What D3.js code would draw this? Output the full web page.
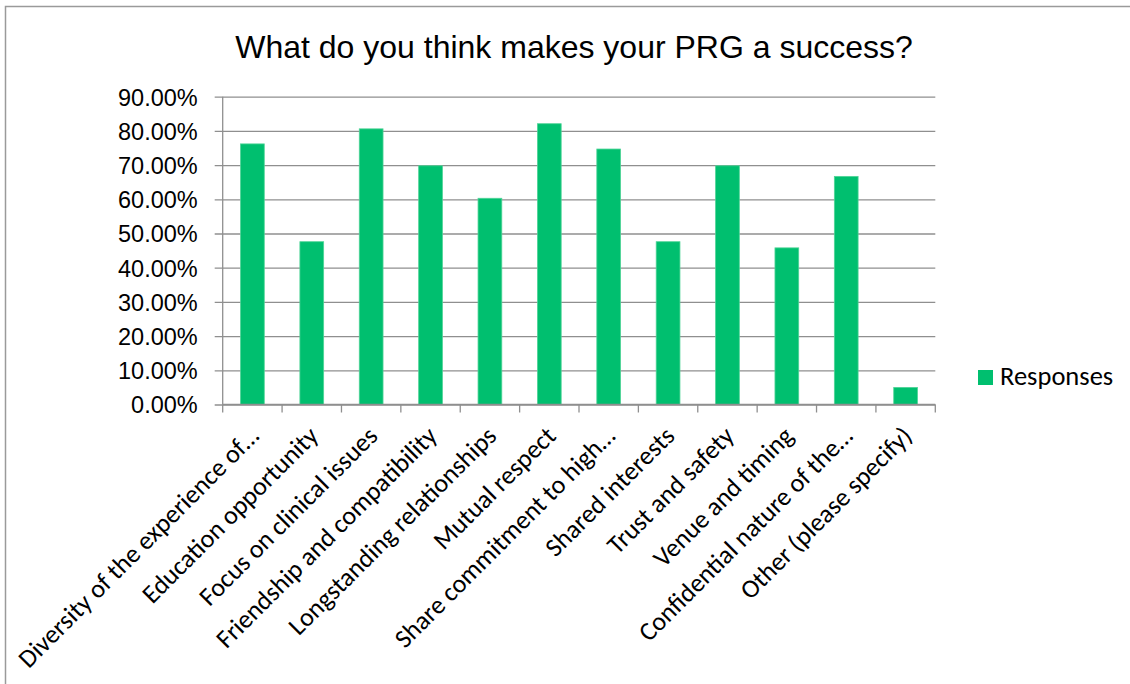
<!DOCTYPE html>
<html>
<head>
<meta charset="utf-8">
<script src="https://cdn.jsdelivr.net/npm/d3@7"></script>
<style>
  html, body { margin: 0; padding: 0; background: #ffffff; }
  svg { display: block; }
</style>
</head>
<body>
<svg id="chart" width="1130" height="684"></svg>
<script>
// Survey question and answer options
const title = "What do you think makes your PRG a success?";
const categories = [
  "Diversity of the experience of…",
  "Education opportunity",
  "Focus on clinical issues",
  "Friendship and compatibility",
  "Longstanding relationships",
  "Mutual respect",
  "Share commitment to high…",
  "Shared interests",
  "Trust and safety",
  "Venue and timing",
  "Confidential nature of the…",
  "Other (please specify)"
];
// Share of respondents choosing each option
const responses = [0.762, 0.476, 0.806, 0.698, 0.603, 0.821, 0.747, 0.476, 0.698, 0.458, 0.667, 0.050];
const seriesName = "Responses";
const yTicks = [0, 0.1, 0.2, 0.3, 0.4, 0.5, 0.6, 0.7, 0.8, 0.9];

const svg = d3.select("#chart");
const barColor = "#00BF6F";
const gridColor = "#8f8f8f";
const labelFont = "Carlito, Calibri, Lato, sans-serif";
const numberFont = "'Liberation Sans', Arial, sans-serif";

// Outer chart frame (continues past the right and bottom edges)
svg.append("rect")
  .attr("x", 5.5).attr("y", 6.5)
  .attr("width", 1300).attr("height", 900)
  .attr("fill", "none")
  .attr("stroke", "#9a9a9a")
  .attr("stroke-width", 1.5);

const plot = { left: 222.7, right: 935.3, top: 96.7, bottom: 404.5 };

const x = d3.scaleBand()
  .domain(categories)
  .range([plot.left, plot.right])
  .paddingInner(0.6)
  .paddingOuter(0.3);

const y = d3.scaleLinear()
  .domain([0, 0.9])
  .range([plot.bottom, plot.top]);

// Title
svg.append("text")
  .attr("x", 574)
  .attr("y", 58)
  .attr("text-anchor", "middle")
  .attr("font-family", numberFont)
  .attr("font-size", 32)
  .attr("fill", "#000")
  .text(title);

// Horizontal gridlines with short outside ticks
const yAxis = d3.axisLeft(y)
  .tickValues(yTicks)
  .tickFormat(d3.format(".2%"))
  .tickSizeOuter(0);

const gy = svg.append("g")
  .attr("transform", `translate(${plot.right},0)`)
  .call(yAxis);
gy.select(".domain").remove();
gy.selectAll(".tick line")
  .attr("x1", plot.left - plot.right - 8)
  .attr("x2", 0)
  .attr("stroke", gridColor)
  .attr("stroke-width", 1.3);
gy.selectAll(".tick text")
  .attr("x", plot.left - plot.right - 25)
  .attr("dy", "0.36em")
  .attr("font-family", numberFont)
  .attr("font-size", 23.5)
  .attr("fill", "#000");

// Vertical value axis line
svg.append("line")
  .attr("x1", plot.left).attr("x2", plot.left)
  .attr("y1", plot.top).attr("y2", plot.bottom)
  .attr("stroke", gridColor)
  .attr("stroke-width", 1.3);

// Bars
svg.append("g")
  .selectAll("rect")
  .data(responses)
  .join("rect")
  .attr("x", (d, i) => x(categories[i]))
  .attr("y", d => y(d))
  .attr("width", x.bandwidth())
  .attr("height", d => y(0) - y(d))
  .attr("fill", barColor)
  .attr("stroke", "#4fd497")
  .attr("stroke-width", 0.8);

// Category axis: boundary tick marks between categories
const boundaries = d3.range(categories.length + 1)
  .map(i => plot.left + i * x.step());
svg.append("line")
  .attr("x1", plot.left).attr("x2", plot.right)
  .attr("y1", plot.bottom).attr("y2", plot.bottom)
  .attr("stroke", gridColor)
  .attr("stroke-width", 1.3);
svg.append("g")
  .selectAll("line")
  .data(boundaries)
  .join("line")
  .attr("x1", d => d).attr("x2", d => d)
  .attr("y1", plot.bottom).attr("y2", plot.bottom + 8)
  .attr("stroke", gridColor)
  .attr("stroke-width", 1.3);

// Rotated category labels
svg.append("g")
  .selectAll("text")
  .data(categories)
  .join("text")
  .attr("transform", d => `translate(${x(d) + x.bandwidth() / 2 + 8},${plot.bottom + 33}) rotate(-45)`)
  .attr("text-anchor", "end")
  .attr("font-family", labelFont)
  .attr("font-size", 26)
  .attr("fill", "#000")
  .text(d => d);

// Legend
const legend = svg.append("g").attr("transform", "translate(978,370)");
legend.append("rect")
  .attr("width", 15).attr("height", 15)
  .attr("fill", barColor);
legend.append("text")
  .attr("x", 22).attr("y", 15)
  .attr("font-family", labelFont)
  .attr("font-size", 26.5)
  .attr("fill", "#000")
  .text(seriesName);
</script>
</body>
</html>
